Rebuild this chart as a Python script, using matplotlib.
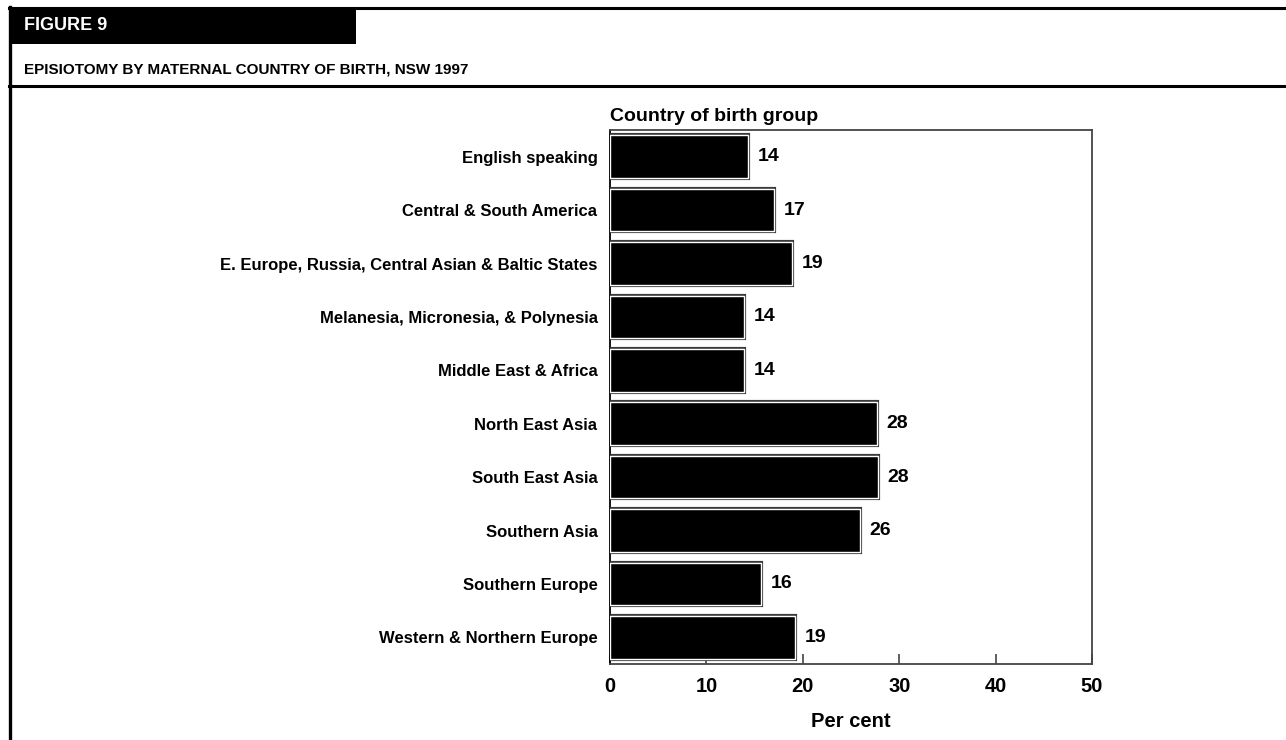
import matplotlib
matplotlib.use("Agg")
import matplotlib.pyplot as plt
import matplotlib.patheffects as pe
from matplotlib.patches import Rectangle
from matplotlib.lines import Line2D

plt.rcParams['font.family'] = ['Liberation Sans', 'DejaVu Sans']
plt.rcParams['font.weight'] = 'bold'

# Country of birth groups and episiotomy rates (per cent)
groups = [
    "English speaking",
    "Central & South America",
    "E. Europe, Russia, Central Asian & Baltic States",
    "Melanesia, Micronesia, & Polynesia",
    "Middle East & Africa",
    "North East Asia",
    "South East Asia",
    "Southern Asia",
    "Southern Europe",
    "Western & Northern Europe",
]
rates = [14.3, 17.0, 18.9, 13.9, 13.9, 27.7, 27.8, 25.9, 15.7, 19.2]
x_ticks = [0, 10, 20, 30, 40, 50]

figure_label = "FIGURE 9"
title = "EPISIOTOMY BY MATERNAL COUNTRY OF BIRTH, NSW 1997"
group_header = "Country of birth group"
x_label = "Per cent"

W, H = 1286, 740
fig = plt.figure(figsize=(W / 100, H / 100), dpi=100)
fig.patch.set_facecolor("white")


def fx(px):
    return px / W


def fy(py):
    return 1 - py / H


# Page frame: header block, rules and left border
fig.add_artist(Rectangle((fx(9), fy(44)), fx(356) - fx(9), fy(7) - fy(44),
                         transform=fig.transFigure, facecolor="black",
                         edgecolor="none"))
fig.add_artist(Line2D([fx(9), 1], [fy(8), fy(8)], transform=fig.transFigure,
                      color="black", lw=2.2))
fig.add_artist(Line2D([fx(9), 1], [fy(86), fy(86)], transform=fig.transFigure,
                      color="black", lw=2.2))
fig.add_artist(Line2D([fx(10), fx(10)], [fy(7), 0], transform=fig.transFigure,
                      color="black", lw=2.4))

fig.text(fx(24), fy(26), figure_label, color="white", fontsize=13,
         fontweight="bold", va="center", ha="left")
fig.text(fx(24), fy(69), title, color="black", fontsize=11,
         fontweight="bold", va="center", ha="left")

# Chart area
ax = fig.add_axes([fx(610), fy(664), fx(1092) - fx(610), fy(130) - fy(664)])
ypos = list(range(len(groups)))
bars = ax.barh(ypos, rates, height=0.8, color="black", edgecolor="white",
               linewidth=1.0, zorder=3)
for b in bars:
    b.set_path_effects([pe.withStroke(linewidth=3.0, foreground="#3a3a3a")])

ax.bar_label(bars, labels=[f"{v:.0f}" for v in rates], padding=7,
             fontsize=14, fontweight="bold")

ax.set_xlim(x_ticks[0], x_ticks[-1])
ax.set_ylim(len(groups) - 0.5, -0.5)
ax.set_xticks(x_ticks)
ax.set_xticklabels([str(t) for t in x_ticks], fontsize=14.5, fontweight="bold")
ax.set_yticks(ypos)
ax.set_yticklabels(groups, fontsize=12, fontweight="bold")
ax.tick_params(axis="x", direction="in", length=7, width=1.2,
               color="#444444", pad=9)
ax.tick_params(axis="y", length=0, pad=9)
for s in ax.spines.values():
    s.set_color("#444444")
    s.set_linewidth(1.3)
ax.spines["left"].set_color("black")

ax.set_xlabel(x_label, fontsize=14.5, fontweight="bold", labelpad=12)
ax.text(0, 1.01, group_header, transform=ax.transAxes, fontsize=14,
        fontweight="bold", ha="left", va="bottom")

fig.savefig("out.png", dpi=100, facecolor="white")
